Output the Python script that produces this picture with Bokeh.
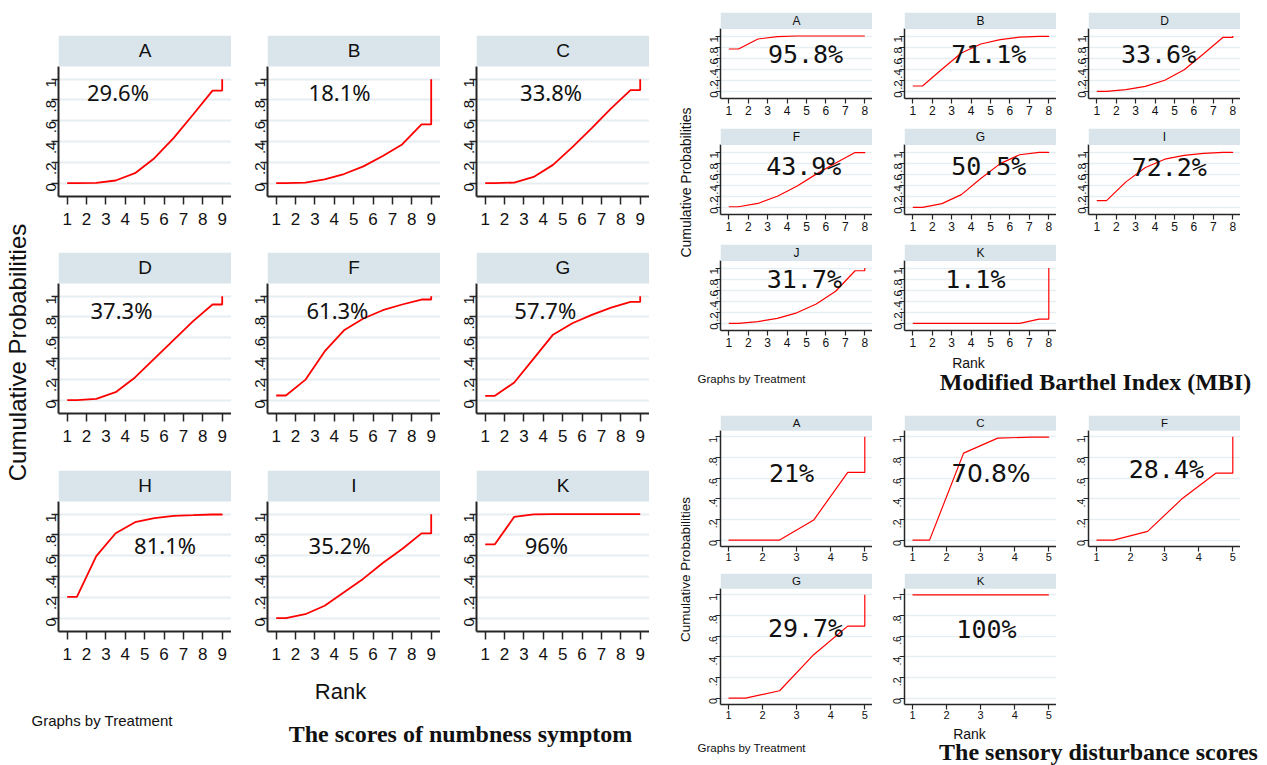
from math import pi
from bokeh.plotting import figure
from bokeh.models import Range1d, FixedTicker, BoxAnnotation, Label, Spacer, CustomJSTickFormatter
from bokeh.layouts import row, column
from bokeh.core.properties import value
from bokeh.embed import file_html
from bokeh.resources import INLINE

# ---------------- data ----------------
Y_TICKS = [0, 0.2, 0.4, 0.6, 0.8, 1]
Y_TICK_LABELS = ["0", ".2", ".4", ".6", ".8", "1"]

# The scores of numbness symptom (cumulative probability for ranks 1..8; rank 9 = 1)
NUMB_RANKS = [1, 2, 3, 4, 5, 6, 7, 8, 9]
NUMB_TREATMENTS = ["A", "B", "C", "D", "F", "G", "H", "I", "K"]
NUMB_A = [0.0, 0.003, 0.026, 0.096, 0.24, 0.436, 0.66, 0.89]
NUMB_B = [0.0, 0.006, 0.036, 0.088, 0.162, 0.262, 0.372, 0.565]
NUMB_C = [0.0, 0.006, 0.06, 0.176, 0.346, 0.53, 0.72, 0.894]
NUMB_D = [0.0, 0.013, 0.077, 0.219, 0.40, 0.58, 0.76, 0.92]
NUMB_F = [0.045, 0.195, 0.469, 0.672, 0.785, 0.865, 0.92, 0.968]
NUMB_G = [0.042, 0.17, 0.40, 0.63, 0.74, 0.82, 0.89, 0.945]
NUMB_H = [0.205, 0.596, 0.817, 0.923, 0.962, 0.984, 0.99, 0.997]
NUMB_I = [0.0, 0.038, 0.12, 0.25, 0.38, 0.53, 0.665, 0.815]
NUMB_K = [0.71, 0.975, 0.999, 1.0, 1.0, 1.0, 1.0, 1.0]
NUMB_CUM = [NUMB_A, NUMB_B, NUMB_C, NUMB_D, NUMB_F, NUMB_G, NUMB_H, NUMB_I, NUMB_K]
NUMB_SUCRA = ["29.6%", "18.1%", "33.8%", "37.3%", "61.3%", "57.7%", "81.1%", "35.2%", "96%"]

# Modified Barthel Index (MBI) (ranks 1..7; rank 8 = 1)
MBI_RANKS = [1, 2, 3, 4, 5, 6, 7, 8]
MBI_TREATMENTS = ["A", "B", "D", "F", "G", "I", "J", "K"]
MBI_A = [0.765, 0.946, 0.988, 1.0, 1.0, 1.0, 1.0]
MBI_B = [0.096, 0.40, 0.693, 0.855, 0.934, 0.98, 0.995]
MBI_D = [0.0, 0.03, 0.09, 0.2, 0.39, 0.68, 0.976]
MBI_F = [0.01, 0.07, 0.2, 0.38, 0.6, 0.8, 0.99]
MBI_G = [0.0, 0.066, 0.23, 0.52, 0.79, 0.95, 0.995]
MBI_I = [0.12, 0.46, 0.72, 0.87, 0.94, 0.976, 0.994]
MBI_J = [0.0, 0.03, 0.09, 0.19, 0.35, 0.58, 0.95]
MBI_K = [0.0, 0.0, 0.0, 0.0, 0.0, 0.0, 0.077]
MBI_CUM = [MBI_A, MBI_B, MBI_D, MBI_F, MBI_G, MBI_I, MBI_J, MBI_K]
MBI_SUCRA = ["95.8%", "71.1%", "33.6%", "43.9%", "50.5%", "72.2%", "31.7%", "1.1%"]

# The sensory disturbance scores (ranks 1..4; rank 5 = 1)
SENS_RANKS = [1, 2, 3, 4, 5]
SENS_TREATMENTS = ["A", "C", "F", "G", "K"]
SENS_A = [0.0, 0.0, 0.194, 0.655]
SENS_C = [0.0, 0.842, 0.987, 0.997]
SENS_F = [0.0, 0.084, 0.397, 0.648]
SENS_G = [0.0, 0.071, 0.42, 0.697]
SENS_K = [1.0, 1.0, 1.0, 1.0]
SENS_CUM = [SENS_A, SENS_C, SENS_F, SENS_G, SENS_K]
SENS_SUCRA = ["21%", "70.8%", "28.4%", "29.7%", "100%"]

# ---------------- styling / layout ----------------
HEADER = "#d9e5eb"
GRID = "#e6eef1"
AXIS = "#262626"
TXT = "#111111"
SANS = "Liberation Sans"
SERIF = "Liberation Serif"
MONO = "DejaVu Sans Mono"

NUMB_STYLE = dict(xr=(0.551, 9.48), yr=(-0.128, 1.42), hb=1.122, axis_w=2, tick_w=1.5, grid_w=2,
                  line_w=1.8, xtick_out=8, ytick_out=7, xfont=SANS, xsize="17px", xstand=8,
                  yfont=SANS, ysize="15px", ystand=0, hfont=SANS, hsize="19px",
                  pfont="Noto Sans", psize="22px")
MBI_STYLE = dict(xr=(0.573, 8.396), yr=(-0.13, 1.425), hb=1.127, axis_w=1.5, tick_w=1.2, grid_w=1.5,
                 line_w=1.2, xtick_out=5, ytick_out=5, xfont=SANS, xsize="12px", xstand=2,
                 yfont=SANS, ysize="11.5px", ystand=1, hfont=SANS, hsize="12px",
                 pfont=MONO, psize="25px")
SENS_STYLE = dict(xr=(0.765, 5.226), yr=(-0.062, 1.206), hb=1.058, axis_w=1.5, tick_w=1.2, grid_w=1.5,
                  line_w=1.2, xtick_out=5, ytick_out=5, xfont=SANS, xsize="11px", xstand=1,
                  yfont=SANS, ysize="10.5px", ystand=2, hfont=SANS, hsize="11.5px",
                  pfont=MONO, psize="25px")

# percentage label positions (data units of each panel)
NUMB_POS = [(3.62, 0.875), (4.27, 0.875), (4.4, 0.875), (3.8, 0.87), (4.16, 0.87), (4.1, 0.87),
            (6.05, 0.70), (4.27, 0.70), (4.16, 0.70)]
MBI_POS = [(4.95, 0.67), (4.91, 0.67), (4.18, 0.67), (4.86, 0.73), (4.91, 0.73), (4.73, 0.72),
           (4.89, 0.795), (4.22, 0.795)]
SENS_POS = [(2.85, 0.645), (3.3, 0.645), (3.05, 0.687), (3.26, 0.67), (3.17, 0.66)]
SENS_PFONT = [MONO, "DejaVu Sans", MONO, MONO, MONO]

Y_FORMATTER_CODE = """
const i = yt.findIndex(t => Math.abs(t - tick) < 1e-9);
return i >= 0 ? yl[i] : '';
"""


def sucra_path(cum, ranks):
    n = ranks[-1]
    xs = [ranks[0]] + [r + 0.5 for r in ranks[:-1]] + [n, n]
    ys = [cum[0]] + list(cum) + [cum[-1], 1.0]
    return xs, ys


def make_panel(st, name, cum, ranks, sucra, pos, w, h, left, top, bottom, pfont=None):
    x0, x1 = st["xr"]
    y0, y1 = st["yr"]
    hb = st["hb"]
    p = figure(width=w, height=h, x_range=Range1d(x0, x1), y_range=Range1d(y0, y1),
               output_backend="svg", toolbar_location=None, title_location=None,
               min_border_left=left, min_border_right=0, min_border_top=top,
               min_border_bottom=bottom)
    p.outline_line_color = None
    p.background_fill_color = "white"
    p.border_fill_color = "white"
    p.xgrid.visible = False
    p.ygrid.ticker = FixedTicker(ticks=Y_TICKS)
    p.ygrid.grid_line_color = GRID
    p.ygrid.grid_line_width = st["grid_w"]

    p.add_layout(BoxAnnotation(left=x0, right=x1, bottom=hb, top=y1, fill_color=HEADER,
                               fill_alpha=1.0, line_color=None))
    p.add_layout(Label(x=(x0 + x1) / 2, y=(hb + y1) / 2, text=name, text_align="center",
                       text_baseline="middle", text_font=st["hfont"],
                       text_font_size=st["hsize"], text_color=TXT))

    xs, ys = sucra_path(cum, ranks)
    p.line(xs, ys, line_color="red", line_width=st["line_w"])

    p.add_layout(Label(x=pos[0], y=pos[1], text=sucra, text_align="center",
                       text_baseline="middle", text_font=pfont or st["pfont"],
                       text_font_size=st["psize"], text_color=TXT))

    xa = p.xaxis[0]
    ya = p.yaxis[0]
    xa.ticker = FixedTicker(ticks=ranks)
    ya.ticker = FixedTicker(ticks=Y_TICKS)
    ya.formatter = CustomJSTickFormatter(args=dict(yt=Y_TICKS, yl=Y_TICK_LABELS),
                                         code=Y_FORMATTER_CODE)
    ya.bounds = (y0, hb)
    ya.major_label_orientation = pi / 2
    for ax in (xa, ya):
        ax.axis_line_color = AXIS
        ax.axis_line_width = st["axis_w"]
        ax.major_tick_line_color = AXIS
        ax.major_tick_line_width = st["tick_w"]
        ax.major_tick_in = 0
        ax.minor_tick_line_color = None
        ax.major_label_text_color = TXT
    xa.major_tick_out = st["xtick_out"]
    ya.major_tick_out = st["ytick_out"]
    xa.major_label_text_font = st["xfont"]
    xa.major_label_text_font_size = st["xsize"]
    xa.major_label_standoff = st["xstand"]
    ya.major_label_text_font = st["yfont"]
    ya.major_label_text_font_size = st["ysize"]
    ya.major_label_standoff = st["ystand"]
    return p


def text_fig(w, h, items):
    p = figure(width=w, height=h, x_range=Range1d(0, w), y_range=Range1d(h, 0),
               output_backend="svg", toolbar_location=None, title_location=None,
               min_border=0, x_axis_location=None, y_axis_location=None)
    p.outline_line_color = None
    p.background_fill_color = "white"
    p.border_fill_color = "white"
    p.grid.visible = False
    for it in items:
        p.text(x=[it["x"]], y=[it["y"]], text=[it["text"]], angle=it.get("angle", 0),
               text_align=it.get("align", "center"), text_baseline="middle",
               text_font=value(it.get("font", SANS)), text_font_size=it["size"],
               text_font_style=it.get("style", "normal"), text_color=TXT)
    return p


# ---------------- left group: numbness ----------------
numb_rows_geom = [(236, 35), (217, 16), (218, 17)]   # (height, top border)
numb_cols_geom = [(200, 27), (209, 36), (209, 36)]   # (width, left border)
numb_rows = []
k = 0
for (rh, rt) in numb_rows_geom:
    figs = []
    for (cw, cl) in numb_cols_geom:
        figs.append(make_panel(NUMB_STYLE, NUMB_TREATMENTS[k], NUMB_CUM[k], NUMB_RANKS,
                               NUMB_SUCRA[k], NUMB_POS[k], cw, rh, cl, rt, 40))
        k += 1
    numb_rows.append(row(*figs, spacing=0))
numb_grid = column(*numb_rows, spacing=0)
numb_ytitle = text_fig(31, 671, [dict(x=17, y=352, text="Cumulative Probabilities",
                                      angle=pi / 2, size="24px")])
numb_annot = text_fig(649, 94, [
    dict(x=340, y=20, text="Rank", size="22px"),
    dict(x=31, y=49, text="Graphs by Treatment", size="15px", align="left"),
    dict(x=460, y=62, text="The scores of numbness symptom", size="24px", font=SERIF, style="bold"),
])
left_block = column(row(numb_ytitle, numb_grid, spacing=0), numb_annot, spacing=0)

# ---------------- right top: MBI ----------------
mbi_rows_geom = [(120, 12), (116, 8), (116, 8)]
right_cols_geom = [(175, 23), (184, 32), (184, 32)]
mbi_rows = []
k = 0
for (rh, rt) in mbi_rows_geom:
    figs = []
    for (cw, cl) in right_cols_geom:
        if k < len(MBI_TREATMENTS):
            figs.append(make_panel(MBI_STYLE, MBI_TREATMENTS[k], MBI_CUM[k], MBI_RANKS,
                                   MBI_SUCRA[k], MBI_POS[k], cw, rh, cl, rt, 22))
        else:
            figs.append(Spacer(width=cw, height=rh))
        k += 1
    mbi_rows.append(row(*figs, spacing=0))
mbi_grid = column(*mbi_rows, spacing=0)
mbi_ytitle = text_fig(48, 352, [dict(x=36, y=182, text="Cumulative Probabilities",
                                     angle=pi / 2, size="14px")])
mbi_annot = text_fig(618, 43, [
    dict(x=319, y=10, text="Rank", size="14px"),
    dict(x=48, y=26, text="Graphs by Treatment", size="11.5px", align="left"),
    dict(x=446, y=29, text="Modified Barthel Index (MBI)", size="24px", font=SERIF, style="bold"),
])

# ---------------- right bottom: sensory ----------------
sens_rows_geom = [(173, 20), (158, 5)]
sens_rows = []
k = 0
for (rh, rt) in sens_rows_geom:
    figs = []
    for (cw, cl) in right_cols_geom:
        if k < len(SENS_TREATMENTS):
            figs.append(make_panel(SENS_STYLE, SENS_TREATMENTS[k], SENS_CUM[k], SENS_RANKS,
                                   SENS_SUCRA[k], SENS_POS[k], cw, rh, cl, rt, 22,
                                   pfont=SENS_PFONT[k]))
        else:
            figs.append(Spacer(width=cw, height=rh))
        k += 1
    sens_rows.append(row(*figs, spacing=0))
sens_grid = column(*sens_rows, spacing=0)
sens_ytitle = text_fig(48, 331, [dict(x=36, y=174, text="Cumulative Probabilities",
                                      angle=pi / 2, size="13.5px")])
sens_annot = text_fig(618, 39, [
    dict(x=320, y=7, text="Rank", size="14px"),
    dict(x=48, y=21, text="Graphs by Treatment", size="11.5px", align="left"),
    dict(x=449, y=25, text="The sensory disturbance scores", size="24px", font=SERIF, style="bold"),
])

right_block = column(row(mbi_ytitle, mbi_grid, spacing=0), mbi_annot,
                     row(sens_ytitle, sens_grid, spacing=0), sens_annot, spacing=0)

layout = row(left_block, right_block, spacing=0)

open("out.html", "w").write(file_html(layout, INLINE))
